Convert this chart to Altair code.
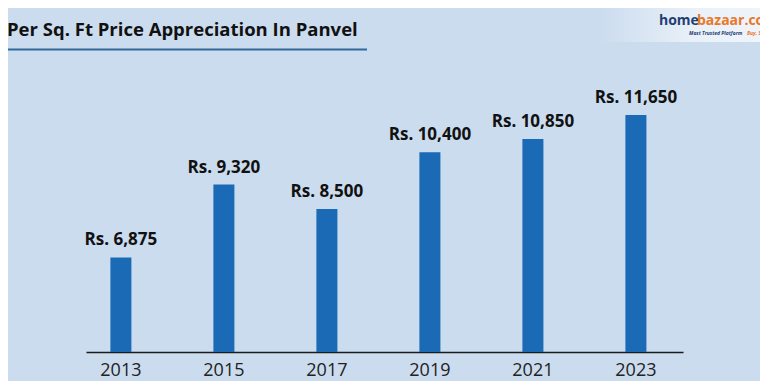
import altair as alt
import pandas as pd

years = ["2013", "2015", "2017", "2019", "2021", "2023"]
prices = [6875, 9320, 8500, 10400, 10850, 11650]

title_text = "Per Sq. Ft Price Appreciation In Panvel"
logo_a = "home"
logo_b = "bazaar.com"
tag_a = "Most Trusted Platform"
tag_b = "Buy, Sell, Rent"

BG = "#cbdcef"
BAR = "#1a6ab6"
FONT = "Open Sans"

df = pd.DataFrame({"year": years, "price": prices})
one = alt.Data(values=[{}])

xenc = alt.X("year:N", sort=years,
             scale=alt.Scale(paddingInner=0.796, paddingOuter=0.296, align=0.4),
             axis=alt.Axis(title=None, labelAngle=0, ticks=False, domainColor="#1a1a1a",
                           domainWidth=1.3, labelFont=FONT, labelFontSize=18,
                           labelColor="#222222", labelPadding=9, grid=False))
yscale = alt.Scale(domain=[3700, 13500], zero=False)

bars = alt.Chart(df).mark_bar(color=BAR).encode(
    x=xenc,
    y=alt.Y("price:Q", scale=yscale, axis=None),
    y2=alt.datum(3700),
)

labels = alt.Chart(df).transform_calculate(
    lab="'Rs. ' + format(datum.price, ',')"
).mark_text(font=FONT, fontWeight="bold", fontSize=17, color="#111111",
            baseline="alphabetic", dy=-12).encode(
    x=alt.X("year:N", sort=years),
    y=alt.Y("price:Q", scale=yscale),
    text="lab:N",
)

title = alt.Chart(one).mark_text(font=FONT, fontWeight="bold", fontSize=18.5,
                                 color="#111111", align="left",
                                 baseline="alphabetic").encode(
    x=alt.value(-79), y=alt.value(-24), text=alt.value(title_text))

underline = alt.Chart(one).mark_rule(color="#2e6a9e", strokeWidth=2).encode(
    x=alt.value(-78), x2=alt.value(281), y=alt.value(-10.5))

logo_bg = alt.Chart(one).mark_rect(
    color=alt.Gradient(gradient="linear", x1=0, x2=1, y1=0, y2=0,
                       stops=[alt.GradientStop(color=BG, offset=0),
                              alt.GradientStop(color="#e9f0f8", offset=0.5),
                              alt.GradientStop(color="#f2f6fb", offset=1)])
).encode(x=alt.value(514), x2=alt.value(700), y=alt.value(-52), y2=alt.value(-18))

logo1 = alt.Chart(one).mark_text(font=FONT, fontWeight="bold", fontSize=14,
                                 color="#1f3f73", align="left",
                                 baseline="alphabetic").encode(
    x=alt.value(573), y=alt.value(-35), text=alt.value(logo_a))
logo2 = alt.Chart(one).mark_text(font=FONT, fontWeight="bold", fontSize=14,
                                 color="#e8782a", align="left",
                                 baseline="alphabetic").encode(
    x=alt.value(611), y=alt.value(-35), text=alt.value(logo_b))
tag1 = alt.Chart(one).mark_text(font=FONT, fontWeight="bold", fontStyle="italic",
                                fontSize=5, color="#1f3f73", align="left",
                                baseline="alphabetic").encode(
    x=alt.value(603), y=alt.value(-25.5), text=alt.value(tag_a))
tag2 = alt.Chart(one).mark_text(font=FONT, fontWeight="bold", fontStyle="italic",
                                fontSize=5, color="#e8782a", align="left",
                                baseline="alphabetic").encode(
    x=alt.value(661), y=alt.value(-25.5), text=alt.value(tag_b))

chart = alt.layer(bars, labels, title, underline, logo_bg, logo1, logo2, tag1, tag2).properties(
    width=597, height=292,
    autosize=alt.AutoSizeParams(type="none"),
    padding={"left": 78, "top": 52, "right": 77, "bottom": 29},
    background=BG,
).configure_view(stroke=None)

chart.save("out.html", embed_options={"renderer": "svg", "actions": False})
